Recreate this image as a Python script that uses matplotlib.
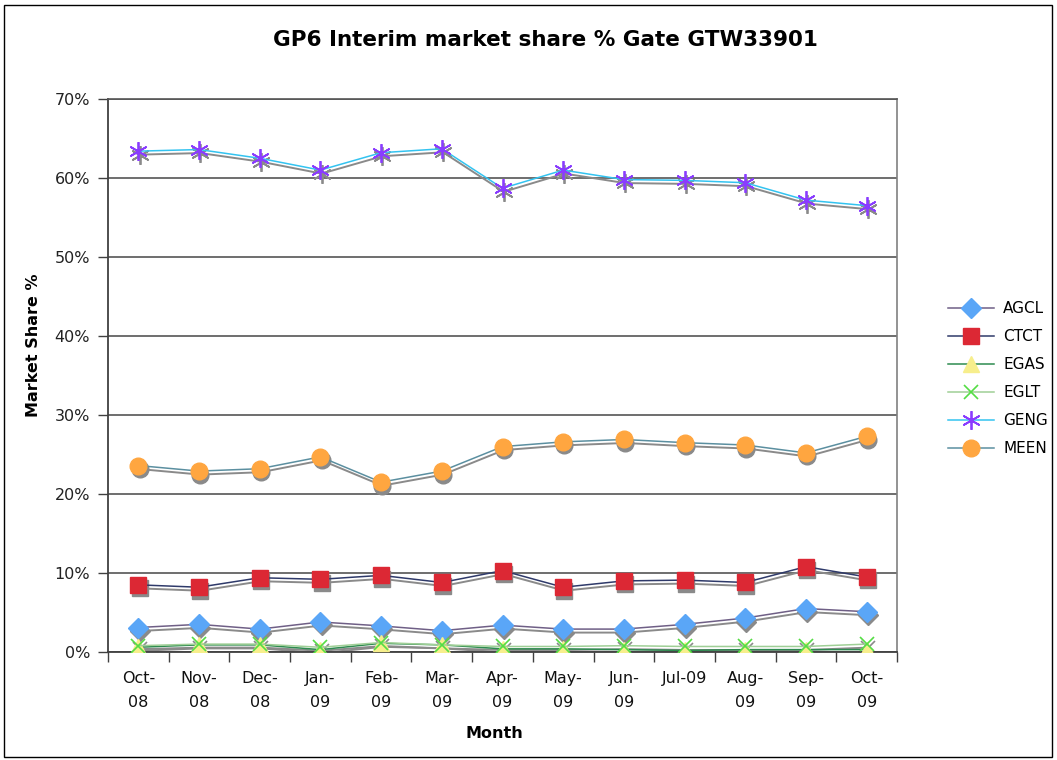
import matplotlib
matplotlib.use("Agg")
import matplotlib.pyplot as plt
from matplotlib.transforms import ScaledTranslation
from matplotlib.patches import Rectangle
from matplotlib.ticker import FixedLocator, FuncFormatter

# ---- data (market share, %) ----
months = ["Oct-\n08", "Nov-\n08", "Dec-\n08", "Jan-\n09", "Feb-\n09", "Mar-\n09",
          "Apr-\n09", "May-\n09", "Jun-\n09", "Jul-09", "Aug-\n09", "Sep-\n09", "Oct-\n09"]

agcl = [3.1, 3.5, 2.9, 3.8, 3.3, 2.7, 3.4, 2.9, 2.9, 3.5, 4.3, 5.5, 5.1]
ctct = [8.5, 8.2, 9.4, 9.2, 9.7, 8.8, 10.3, 8.2, 9.0, 9.1, 8.8, 10.8, 9.5]
egas = [0.6, 0.9, 0.9, 0.3, 1.1, 0.9, 0.4, 0.4, 0.3, 0.2, 0.3, 0.3, 0.3]
eglt = [0.8, 1.0, 1.0, 0.6, 1.2, 0.9, 0.7, 0.7, 0.8, 0.7, 0.7, 0.7, 1.0]
geng = [63.4, 63.6, 62.5, 61.0, 63.2, 63.7, 58.7, 61.0, 59.8, 59.7, 59.4, 57.2, 56.5]
meen = [23.6, 22.9, 23.2, 24.7, 21.5, 22.9, 26.0, 26.6, 26.9, 26.5, 26.2, 25.2, 27.3]

series_names = ["AGCL", "CTCT", "EGAS", "EGLT", "GENG", "MEEN"]
series_values = [agcl, ctct, egas, eglt, geng, meen]

# ---- styling ----
styles = {
    "AGCL": dict(color="#6f5f86", marker="D", ms=10, mfc="#5aa6f7", mec="#5aa6f7", mew=1),
    "CTCT": dict(color="#2f3a6a", marker="s", ms=11, mfc="#dc2834", mec="#dc2834", mew=1),
    "EGAS": dict(color="#2e8b50", marker="^", ms=11.5, mfc="#f7ee8c", mec="#f7ee8c", mew=1),
    "EGLT": dict(color="#9fcf96", marker="x", ms=10.5, mfc="#55dd44", mec="#55dd44", mew=1.2),
    "GENG": dict(color="#33c3f0", marker=(6, 2, 0), ms=13.5, mfc="#8a3cff", mec="#8a3cff", mew=1.3),
    "MEEN": dict(color="#5b8fa0", marker="o", ms=12, mfc="#ffa640", mec="#ffa640", mew=1),
}
shadow_color = "#8a8a8a"

W, H, DPI = 1057, 760, 100
fig = plt.figure(figsize=(W / DPI, H / DPI), dpi=DPI)
fig.patch.set_facecolor("white")

# outer chart border
fig.add_artist(Rectangle((4 / W, 3 / H), 1048 / W, 752 / H, transform=fig.transFigure,
                         fill=False, edgecolor="black", linewidth=1.0))

# plot area in pixels
left_px, right_px, top_px, bottom_px = 108, 897, 99, 652
ax = fig.add_axes([left_px / W, 1 - bottom_px / H,
                   (right_px - left_px) / W, (bottom_px - top_px) / H])

x = list(range(len(months)))
shadow_tf = ax.transData + ScaledTranslation(1.2 / DPI, -3.5 / DPI, fig.dpi_scale_trans)

# shadows first, then colored series on top
for name, vals in zip(series_names, series_values):
    st = styles[name]
    ax.plot(x, vals, color=shadow_color, lw=1.4, marker=st["marker"], ms=st["ms"],
            mfc=shadow_color, mec=shadow_color, mew=st["mew"], transform=shadow_tf,
            zorder=2, solid_joinstyle="miter")

handles = []
for name, vals in zip(series_names, series_values):
    st = styles[name]
    h, = ax.plot(x, vals, color=st["color"], lw=1.1, marker=st["marker"], ms=st["ms"],
                 mfc=st["mfc"], mec=st["mec"], mew=st["mew"], zorder=3, label=name)
    handles.append(h)

ax.set_xlim(-0.5, len(months) - 0.5)
ax.set_ylim(0, 70)

# y axis
ax.yaxis.set_major_locator(FixedLocator(range(0, 71, 10)))
ax.yaxis.set_major_formatter(FuncFormatter(lambda v, p: f"{int(round(v))}%"))
ax.tick_params(axis="y", direction="out", length=7, width=1, color="#404040",
               labelsize=11.5, pad=6, labelcolor="#222222")
ax.grid(axis="y", color="#555555", linewidth=1.2, zorder=1)
ax.set_axisbelow(True)

# x axis: labels at categories, tick marks between categories
ax.set_xticks(x)
ax.set_xticklabels(months, fontsize=11.5, color="#111111", linespacing=1.75)
ax.set_xticks([i - 0.5 for i in range(len(months) + 1)], minor=True)
ax.tick_params(axis="x", which="major", length=0, pad=14)
ax.tick_params(axis="x", which="minor", direction="out", length=7, width=1, color="#404040")

for side in ["left", "bottom"]:
    ax.spines[side].set_color("#404040")
    ax.spines[side].set_linewidth(1.3)
ax.spines["right"].set_color("#808080")
ax.spines["top"].set_color("#555555")
ax.spines["right"].set_linewidth(1.2)
ax.spines["top"].set_linewidth(1.2)

ax.set_ylabel("Market Share %", fontsize=11.5, fontweight="bold")
ax.yaxis.set_label_coords(-0.085, 0.555)
ax.set_xlabel("Month", fontsize=11.5, fontweight="bold")
ax.xaxis.set_label_coords(0.49, -0.133)

fig.text(545 / W, 1 - 40 / H, "GP6 Interim market share % Gate GTW33901",
         ha="center", va="center", fontsize=15.5, fontweight="bold")

leg = fig.legend(handles=handles, labels=series_names, loc="upper left",
                 bbox_to_anchor=(942 / W, 1 - 295 / H), frameon=False,
                 fontsize=11, handlelength=3.0, labelspacing=0.85, handletextpad=0.6,
                 borderaxespad=0)

fig.savefig("out.png", dpi=DPI, facecolor="white")
